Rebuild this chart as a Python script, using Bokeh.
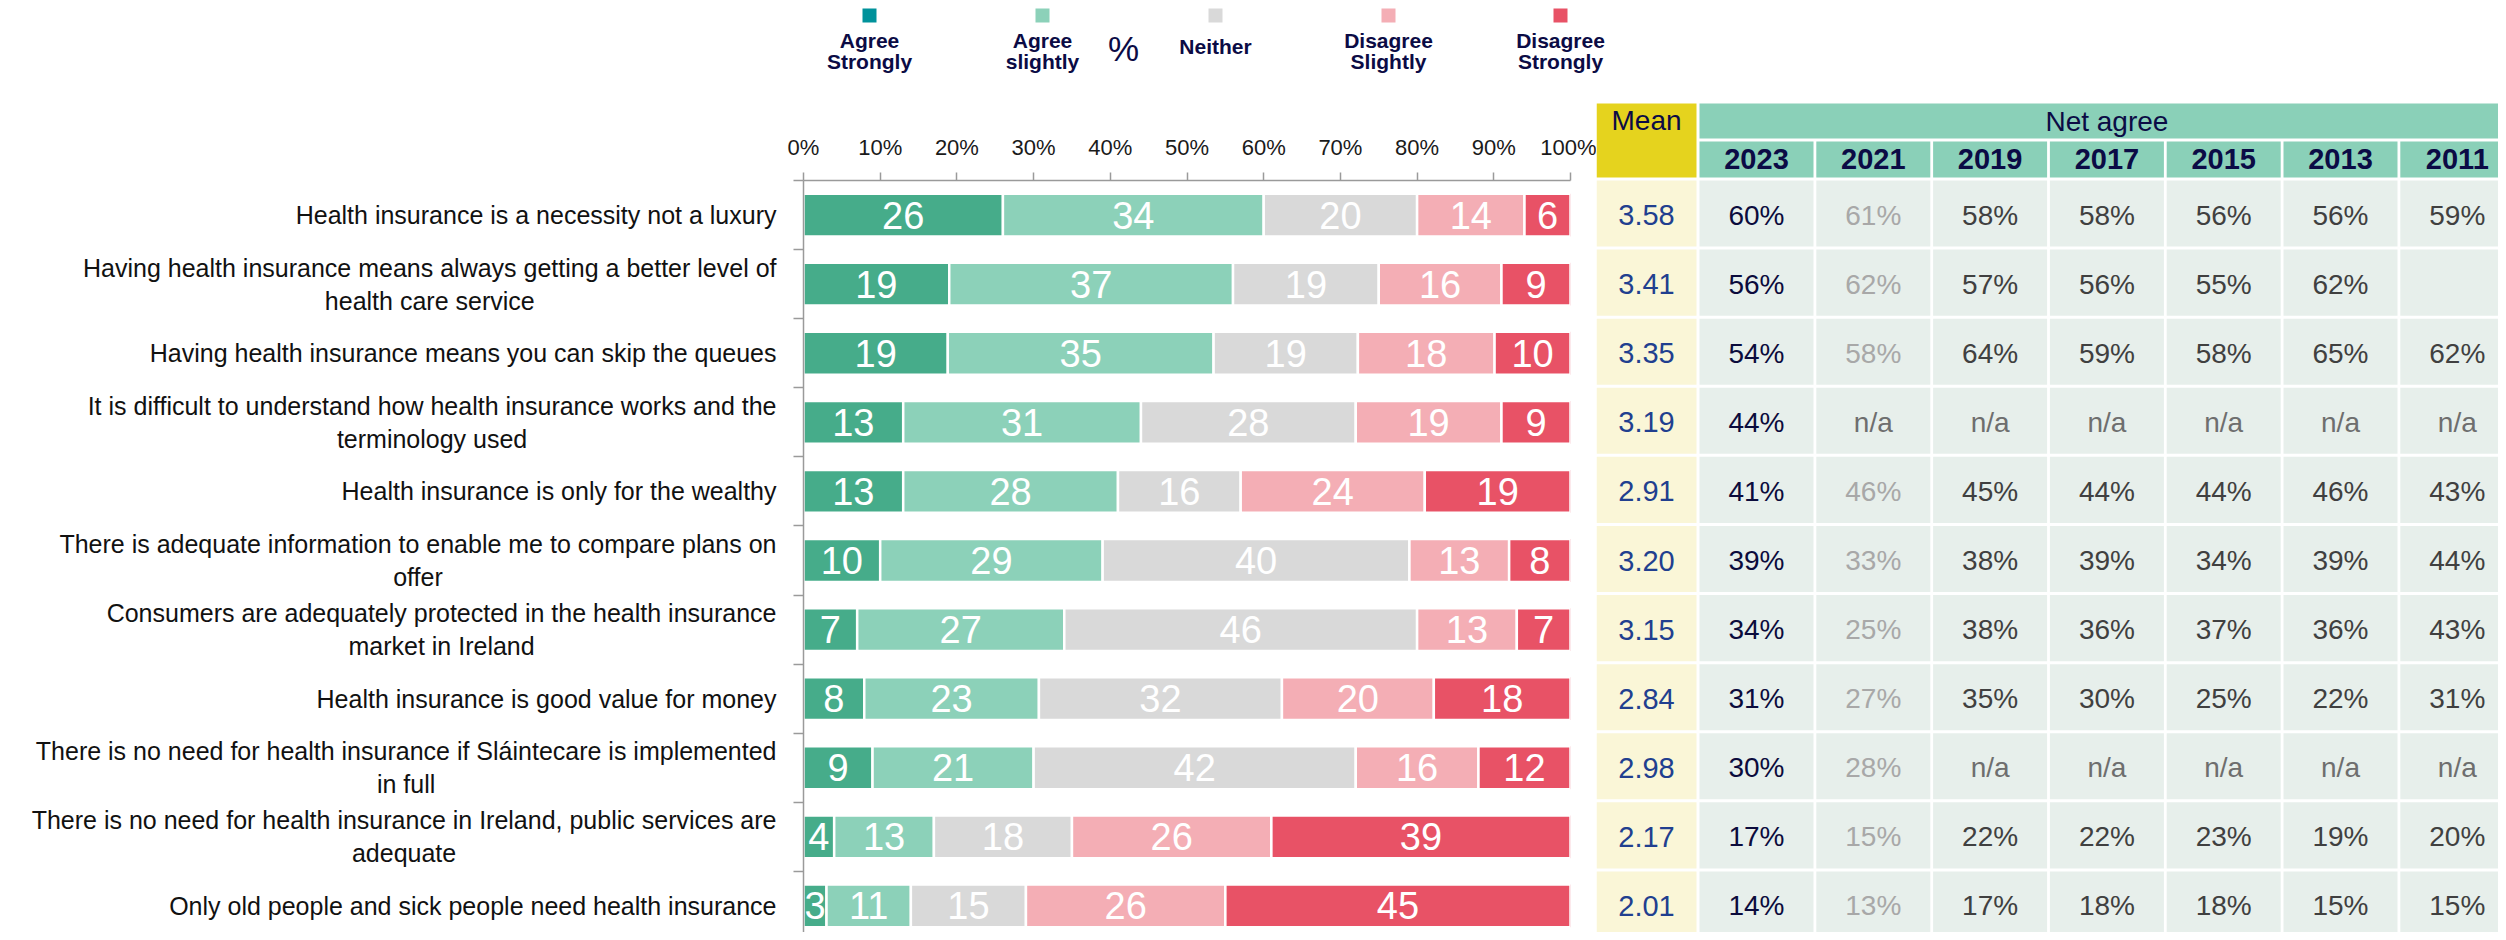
import numpy as np
from bokeh.plotting import figure
from bokeh.layouts import row, column
from bokeh.models import ColumnDataSource, Range1d, FixedTicker, PrintfTickFormatter
from bokeh.core.properties import value
from bokeh.embed import file_html
from bokeh.resources import INLINE

# ---------------- data ----------------
categories = [
    "Health insurance is a necessity not a luxury",
    "Having health insurance means always getting a better level of\nhealth care service",
    "Having health insurance means you can skip the queues",
    "It is difficult to understand how health insurance works and the\nterminology used",
    "Health insurance is only for the wealthy",
    "There is adequate information to enable me to compare plans on\noffer",
    "Consumers are adequately protected in the health insurance\nmarket in Ireland",
    "Health insurance is good value for money",
    "There is no need for health insurance if Sláintecare is implemented\nin full",
    "There is no need for health insurance in Ireland, public services are\nadequate",
    "Only old people and sick people need health insurance",
]
series_names = ["Agree\nStrongly", "Agree\nslightly", "Neither", "Disagree\nSlightly", "Disagree\nStrongly"]
agree_strongly = [26, 19, 19, 13, 13, 10, 7, 8, 9, 4, 3]
agree_slightly = [34, 37, 35, 31, 28, 29, 27, 23, 21, 13, 11]
neither = [20, 19, 19, 28, 16, 40, 46, 32, 42, 18, 15]
disagree_slightly = [14, 16, 18, 19, 24, 13, 13, 20, 16, 26, 26]
disagree_strongly = [6, 9, 10, 9, 19, 8, 7, 18, 12, 39, 45]
means = ["3.58", "3.41", "3.35", "3.19", "2.91", "3.20", "3.15", "2.84", "2.98", "2.17", "2.01"]
years = ["2023", "2021", "2019", "2017", "2015", "2013", "2011"]
net_2023 = ["60%", "56%", "54%", "44%", "41%", "39%", "34%", "31%", "30%", "17%", "14%"]
net_2021 = ["61%", "62%", "58%", "n/a", "46%", "33%", "25%", "27%", "28%", "15%", "13%"]
net_2019 = ["58%", "57%", "64%", "n/a", "45%", "38%", "38%", "35%", "n/a", "22%", "17%"]
net_2017 = ["58%", "56%", "59%", "n/a", "44%", "39%", "36%", "30%", "n/a", "22%", "18%"]
net_2015 = ["56%", "55%", "58%", "n/a", "44%", "34%", "37%", "25%", "n/a", "23%", "18%"]
net_2013 = ["56%", "62%", "65%", "n/a", "46%", "39%", "36%", "22%", "n/a", "19%", "15%"]
net_2011 = ["59%", "", "62%", "n/a", "43%", "44%", "43%", "31%", "n/a", "20%", "15%"]
tick_values = [0, 10, 20, 30, 40, 50, 60, 70, 80, 90, 100]

# ---------------- styles / geometry ----------------
bar_colors = ["#46AC8A", "#8CD1B9", "#D9D9D9", "#F4AEB5", "#E85266"]
legend_colors = ["#00929B", "#8CD1B9", "#D9D9D9", "#F4AEB5", "#E85266"]
NAVY = "#0B0B45"
FONT = value("Liberation Sans")
N = len(categories)
TOTAL_W, TOTAL_H = 2498, 932
TOP_H = 100
ROW_TOP, ROW_BOTTOM = 180, 940
RH = (ROW_BOTTOM - ROW_TOP) / N
row_centers_px = [ROW_TOP + (i + 0.5) * RH for i in range(N)]
LAB_W, BAR_W = 783, 813
TAB_L = LAB_W + BAR_W
TAB_W = TOTAL_W - TAB_L
BODY_H = TOTAL_H - TOP_H


def blank_fig(w, h, xr, yr):
    f = figure(width=w, height=h, x_range=xr, y_range=yr, output_backend="svg",
               toolbar_location=None, x_axis_location=None, y_axis_location=None,
               min_border=0, outline_line_color=None, frame_align=False)
    f.xgrid.visible = False
    f.ygrid.visible = False
    return f


# ---------------- legend strip ----------------
leg = blank_fig(TOTAL_W, TOP_H, Range1d(0, TOTAL_W), Range1d(TOP_H, 0))
leg_x = [869, 1042, 1215, 1388, 1560]
leg.rect(x=leg_x, y=[15] * 5, width=14, height=14, fill_color=legend_colors, line_color=None)
lx, ly, lt = [], [], []
for cx, name in zip(leg_x, series_names):
    parts = name.split("\n")
    if len(parts) == 2:
        lx += [cx, cx]; ly += [40, 61]; lt += parts
    else:
        lx.append(cx); ly.append(46); lt.append(parts[0])
leg.text(x=lx, y=ly, text=lt, text_align="center", text_baseline="alphabetic",
         text_font=FONT, text_font_style="bold", text_font_size="21px", text_color=NAVY)
leg.text(x=[1123], y=[48], text=["%"], text_align="center", text_baseline="alphabetic",
         text_font=FONT, text_font_size="35px", text_color=NAVY)

# ---------------- category labels ----------------
lab = blank_fig(LAB_W, BODY_H, Range1d(0, LAB_W), Range1d(TOTAL_H, TOP_H))
lab.text(x=[776] * N, y=row_centers_px, text=categories, anchor="center_right",
         text_align="center", text_baseline="middle", text_font=FONT,
         text_font_size="25px", text_line_height=1.18, text_color="#111111")

# ---------------- stacked bars ----------------
bar = figure(width=BAR_W, height=BODY_H, x_range=Range1d(0, 100),
             y_range=Range1d((TOTAL_H - ROW_TOP) / RH, 0),
             x_axis_location="above", output_backend="svg", toolbar_location=None,
             min_border_left=20, min_border_right=26, min_border_top=ROW_TOP - TOP_H,
             min_border_bottom=0, outline_line_color=None, frame_align=False)
bar.xgrid.visible = False
bar.ygrid.visible = False

series = [agree_strongly, agree_slightly, neither, disagree_slightly, disagree_strongly]
vals = np.array(series, dtype=float).T
totals = vals.sum(axis=1, keepdims=True)
scaled = vals / totals * 100
rights = np.cumsum(scaled, axis=1)
lefts = rights - scaled
yc = np.arange(N) + 0.5
for k in range(5):
    src = ColumnDataSource(dict(y=yc, left=lefts[:, k], right=rights[:, k],
                                mid=(lefts[:, k] + rights[:, k]) / 2,
                                lab=[str(v) for v in series[k]]))
    bar.hbar(y="y", left="left", right="right", height=0.62, source=src,
             fill_color=bar_colors[k], line_color="white", line_width=2.5)
    bar.text(x="mid", y="y", text="lab", source=src, text_align="center",
             text_baseline="middle", text_font=FONT, text_font_size="38px",
             text_color="white")

xa = bar.xaxis[0]
xa.ticker = FixedTicker(ticks=tick_values)
xa.formatter = PrintfTickFormatter(format="%d%%")
xa.major_label_text_font = "Liberation Sans"
xa.major_label_text_font_size = "22px"
xa.major_label_text_color = "#1a1a1a"
xa.major_label_standoff = 13
xa.major_tick_in = 0
xa.major_tick_out = 8
xa.minor_tick_out = 0
xa.minor_tick_in = 0
xa.axis_line_color = "#9A9A9A"
xa.major_tick_line_color = "#9A9A9A"
xa.axis_line_width = 1.5
xa.major_tick_line_width = 1.5

ya = bar.yaxis[0]
ya.ticker = FixedTicker(ticks=list(range(N)))
ya.major_label_text_color = None
ya.major_label_text_font_size = "1px"
ya.major_label_standoff = 0
ya.major_tick_in = 0
ya.major_tick_out = 10
ya.minor_tick_out = 0
ya.minor_tick_in = 0
ya.axis_line_color = "#9A9A9A"
ya.major_tick_line_color = "#9A9A9A"
ya.axis_line_width = 1.5
ya.major_tick_line_width = 1.5

# ---------------- table ----------------
tab = blank_fig(TAB_W, BODY_H, Range1d(TAB_L, TOTAL_W), Range1d(TOTAL_H, TOP_H))

MEAN_L, MEAN_W = TAB_L, 100
COL_L, COL_P, COL_W = 1699, 116.8, 114
GAP = 3
# headers
tab.quad(left=[MEAN_L], right=[MEAN_L + MEAN_W], top=[103], bottom=[177],
         fill_color="#E5D31E", line_color=None)
tab.text(x=[MEAN_L + MEAN_W / 2], y=[120], text=["Mean"], text_align="center",
         text_baseline="middle", text_font=FONT, text_font_size="28px", text_color=NAVY)
tab.quad(left=[COL_L], right=[COL_L + 6 * COL_P + COL_W], top=[103], bottom=[138],
         fill_color="#8AD0B8", line_color=None)
tab.text(x=[COL_L + (6 * COL_P + COL_W) / 2], y=[121], text=["Net agree"], text_align="center",
         text_baseline="middle", text_font=FONT, text_font_size="28px", text_color=NAVY)
col_left = [COL_L + j * COL_P for j in range(len(years))]
col_mid = [c + COL_W / 2 for c in col_left]
tab.quad(left=col_left, right=[c + COL_W for c in col_left], top=[141] * 7, bottom=[177] * 7,
         fill_color="#8AD0B8", line_color=None)
tab.text(x=col_mid, y=[158] * 7, text=years, text_align="center", text_baseline="middle",
         text_font=FONT, text_font_style="bold", text_font_size="29px", text_color=NAVY)

# body cells
row_tops = [ROW_TOP + i * RH for i in range(N)]
row_bots = [ROW_TOP + (i + 1) * RH - GAP for i in range(N)]
tab.quad(left=[MEAN_L] * N, right=[MEAN_L + MEAN_W] * N, top=row_tops, bottom=row_bots,
         fill_color="#FAF6D7", line_color=None)
tab.text(x=[MEAN_L + MEAN_W / 2] * N, y=row_centers_px, text=means, text_align="center",
         text_baseline="middle", text_font=FONT, text_font_size="29px", text_color="#213F8F")

net_cols = [net_2023, net_2021, net_2019, net_2017, net_2015, net_2013, net_2011]
cx, cy, ct, cc, ql, qr, qt, qb = [], [], [], [], [], [], [], []
for j, col in enumerate(net_cols):
    for i, v in enumerate(col):
        ql.append(col_left[j]); qr.append(col_left[j] + COL_W)
        qt.append(row_tops[i]); qb.append(row_bots[i])
        if v == "":
            continue
        cx.append(col_mid[j]); cy.append(row_centers_px[i]); ct.append(v)
        if v == "n/a":
            cc.append("#6E6E6E")
        elif j == 0:
            cc.append("#0B0B3C")
        elif j == 1:
            cc.append("#A8A8A8")
        else:
            cc.append("#404040")
tab.quad(left=ql, right=qr, top=qt, bottom=qb, fill_color="#E7EFEB", line_color=None)
tab.text(x=cx, y=cy, text=ct, text_color=cc, text_align="center", text_baseline="middle",
         text_font=FONT, text_font_size="28px")

layout = column(leg, row(lab, bar, tab))
open("out.html", "w").write(file_html(layout, INLINE))
